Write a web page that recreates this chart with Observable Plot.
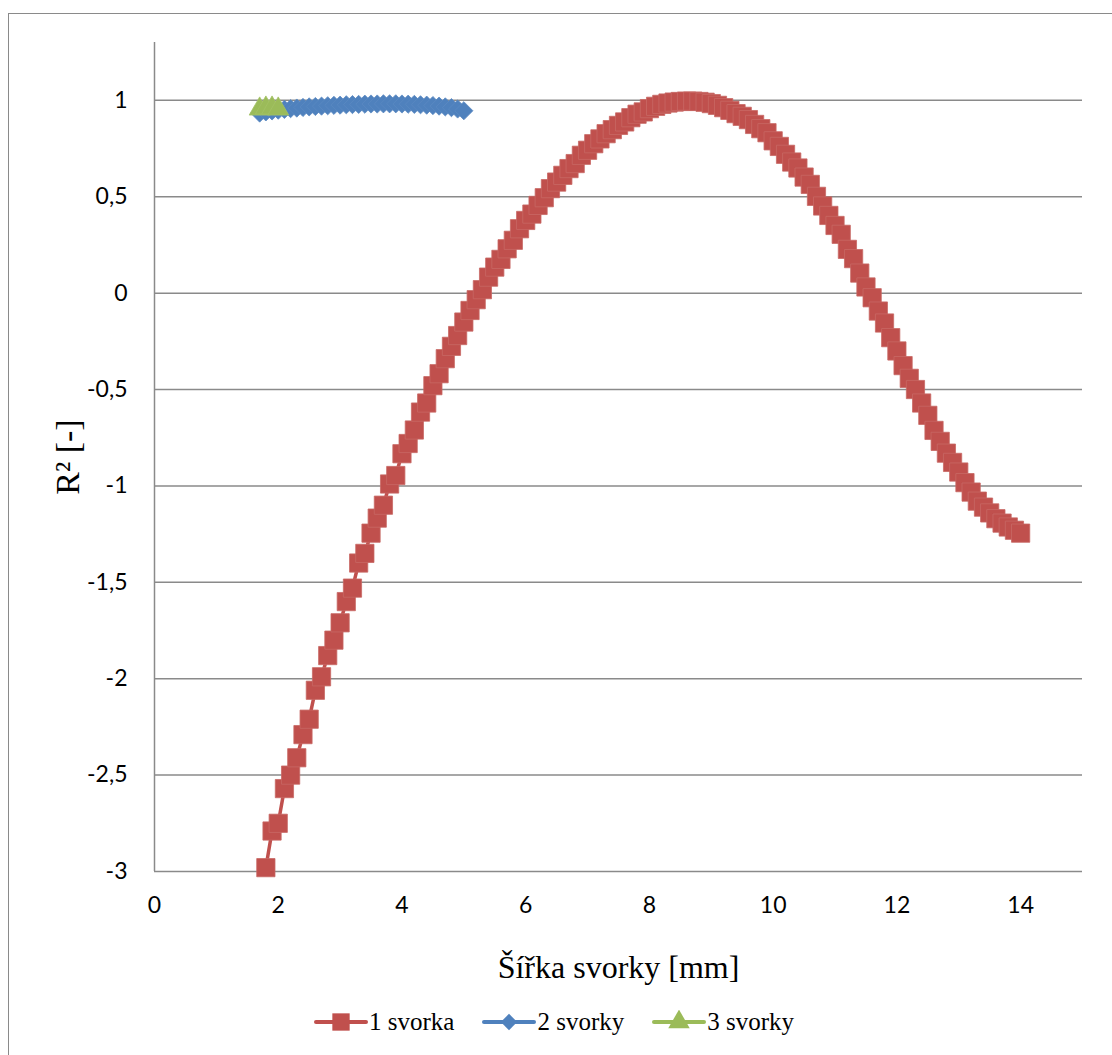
<!DOCTYPE html>
<html>
<head>
<meta charset="utf-8">
<script src="https://cdn.jsdelivr.net/npm/d3@7"></script>
<script src="https://cdn.jsdelivr.net/npm/@observablehq/plot@0.6"></script>
<style>
  html, body { margin: 0; padding: 0; background: #fff; }
  #wrap { position: relative; width: 1112px; height: 1055px; overflow: hidden; background: #fff; }
  #frame { position: absolute; left: 8px; top: 13px; width: 1200px; height: 1200px; border: 1px solid #8a8a8a; pointer-events: none; }
  #chart { position: absolute; left: 0; top: 0; }
  #legend { position: absolute; left: 314px; top: 1008px; display: flex; align-items: center; font-family: "Liberation Serif", "Times New Roman", serif; font-size: 25px; color: #000; }
  .item { display: flex; align-items: center; margin-right: 28px; }
  .item svg { margin-right: 1px; }
</style>
</head>
<body>
<div id="wrap">
  <div id="chart"></div>
  <div id="frame"></div>
  <div id="legend"></div>
</div>
<script>
// ---- Data ----
const seriesNames = ["1 svorka", "2 svorky", "3 svorky"];
const seriesColors = ["#C0504D", "#4F81BD", "#9BBB59"];

const xTicks = [0, 2, 4, 6, 8, 10, 12, 14];
const yTicks = [-3, -2.5, -2, -1.5, -1, -0.5, 0, 0.5, 1];

const redX = [1.8, 1.9, 2.0, 2.1, 2.2, 2.3, 2.4, 2.5, 2.6, 2.7, 2.8, 2.9,
  3.0, 3.1, 3.2, 3.3, 3.4, 3.5, 3.6, 3.7, 3.8, 3.9,
  4.0, 4.1, 4.2, 4.3, 4.4, 4.5, 4.6, 4.7, 4.8, 4.9,
  5.0, 5.1, 5.2, 5.3, 5.4, 5.5, 5.6, 5.7, 5.8, 5.9,
  6.0, 6.1, 6.2, 6.3, 6.4, 6.5, 6.6, 6.7, 6.8, 6.9,
  7.0, 7.1, 7.2, 7.3, 7.4, 7.5, 7.6, 7.7, 7.8, 7.9,
  8.0, 8.1, 8.2, 8.3, 8.4, 8.5, 8.6, 8.7, 8.8, 8.9,
  9.0, 9.1, 9.2, 9.3, 9.4, 9.5, 9.6, 9.7, 9.8, 9.9,
  10.0, 10.1, 10.2, 10.3, 10.4, 10.5, 10.6, 10.7, 10.8, 10.9,
  11.0, 11.1, 11.2, 11.3, 11.4, 11.5, 11.6, 11.7, 11.8, 11.9,
  12.0, 12.1, 12.2, 12.3, 12.4, 12.5, 12.6, 12.7, 12.8, 12.9,
  13.0, 13.1, 13.2, 13.3, 13.4, 13.5, 13.6, 13.7, 13.8, 13.9, 14.0];
const redY = [-2.98, -2.79, -2.75, -2.57, -2.50, -2.41, -2.29, -2.21, -2.06, -1.99, -1.88, -1.80,
  -1.71, -1.60, -1.53, -1.40, -1.35, -1.245, -1.167, -1.10, -0.99, -0.946,
  -0.833, -0.78, -0.71, -0.617, -0.57, -0.48, -0.418, -0.34, -0.276, -0.22,
  -0.15, -0.09, -0.034, 0.018, 0.083, 0.135, 0.175, 0.23, 0.274, 0.334,
  0.377, 0.41, 0.455, 0.495, 0.542, 0.576, 0.611, 0.646, 0.672, 0.715,
  0.741, 0.775, 0.80, 0.827, 0.848, 0.87, 0.888, 0.91, 0.928, 0.94,
  0.957, 0.969, 0.979, 0.986, 0.991, 0.994, 0.996, 0.996, 0.994, 0.99,
  0.983, 0.974, 0.962, 0.948, 0.931, 0.917, 0.90, 0.875, 0.853, 0.832,
  0.79, 0.761, 0.72, 0.68, 0.649, 0.602, 0.564, 0.502, 0.452, 0.403,
  0.351, 0.305, 0.227, 0.179, 0.104, 0.032, -0.024, -0.093, -0.155, -0.231,
  -0.30, -0.376, -0.442, -0.50, -0.57, -0.634, -0.712, -0.769, -0.83, -0.878,
  -0.928, -0.983, -1.032, -1.079, -1.11, -1.14, -1.17, -1.193, -1.213, -1.23, -1.245];

const blueX = [1.7, 1.8, 1.9, 2.0, 2.1, 2.2, 2.3, 2.4, 2.5, 2.6, 2.7, 2.8, 2.9,
  3.0, 3.1, 3.2, 3.3, 3.4, 3.5, 3.6, 3.7, 3.8, 3.9,
  4.0, 4.1, 4.2, 4.3, 4.4, 4.5, 4.6, 4.7, 4.8, 4.9, 5.0];
const blueY = [0.934, 0.94, 0.945, 0.949, 0.953, 0.957, 0.96, 0.963, 0.966, 0.968, 0.97, 0.972, 0.974,
  0.975, 0.977, 0.978, 0.979, 0.98, 0.981, 0.981, 0.982, 0.982, 0.982,
  0.981, 0.98, 0.979, 0.977, 0.975, 0.973, 0.97, 0.966, 0.962, 0.955, 0.946];

const greenX = [1.7, 1.8, 1.9, 2.0];
const greenY = [0.955, 0.96, 0.96, 0.955];

// ---- Build tables ----
const red = redX.map((x, i) => ({x, y: redY[i]}));
const blue = blueX.map((x, i) => ({x, y: blueY[i]}));
const green = greenX.map((x, i) => ({x, y: greenY[i]}));

const fmt = d => String(d).replace(".", ",");
const grid = "#8a8a8a";

const chart = Plot.plot({
  width: 1112,
  height: 1000,
  marginLeft: 154,
  marginRight: 30,
  marginTop: 42,
  marginBottom: 129,
  style: {background: "transparent", fontFamily: "Lato, 'Open Sans', sans-serif", fontSize: "23px", color: "#000"},
  x: {domain: [0, 15]},
  y: {domain: [-3, 1.3]},
  marks: [
    Plot.ruleY(yTicks, {stroke: grid, strokeWidth: 1.5}),
    Plot.ruleX([0], {stroke: grid, strokeWidth: 1.5}),
    Plot.axisY(yTicks, {anchor: "left", tickSize: 0, tickPadding: 27, tickFormat: fmt, label: null, fill: "#000"}),
    Plot.axisX(xTicks, {anchor: "bottom", tickSize: 0, tickPadding: 25, tickFormat: fmt, label: null, fill: "#000"}),
    Plot.text(["Šířka svorky [mm]"], {frameAnchor: "bottom", dy: 96, lineAnchor: "middle", fontFamily: "Liberation Serif, 'Times New Roman', serif", fontSize: 32, fill: "#000"}),
    Plot.text(["R² [-]"], {frameAnchor: "left", dx: -86, rotate: -90, lineAnchor: "middle", textAnchor: "middle", fontFamily: "Liberation Serif, 'Times New Roman', serif", fontSize: 34, fill: "#000"}),
    // series 1
    Plot.line(red, {x: "x", y: "y", stroke: seriesColors[0], strokeWidth: 3.5}),
    Plot.dot(red, {x: "x", y: "y", symbol: "square", r: 10.3, fill: seriesColors[0], stroke: "#c86865", strokeWidth: 0.8}),
    // series 2
    Plot.line(blue, {x: "x", y: "y", stroke: seriesColors[1], strokeWidth: 3.5}),
    Plot.dot(blue, {x: "x", y: "y", symbol: "diamond2", r: 8.2, fill: seriesColors[1], stroke: "#5a89c2", strokeWidth: 0.8}),
    // series 3
    Plot.line(green, {x: "x", y: "y", stroke: seriesColors[2], strokeWidth: 3.5}),
    Plot.dot(green, {x: "x", y: "y", symbol: "triangle", r: 7.8, fill: seriesColors[2], stroke: "#a3c164", strokeWidth: 0.8})
  ]
});
document.getElementById("chart").appendChild(chart);

// ---- Legend ----
const symbols = [d3.symbolSquare, d3.symbolDiamond2, d3.symbolTriangle];
const symSizes = [300, 170, 200];
const legend = d3.select("#legend");
seriesNames.forEach((name, i) => {
  const item = legend.append("div").attr("class", "item");
  const svg = item.append("svg").attr("width", 54).attr("height", 24);
  svg.append("line").attr("x1", 2).attr("x2", 52).attr("y1", 12).attr("y2", 12)
    .attr("stroke", seriesColors[i]).attr("stroke-width", 4).attr("stroke-linecap", "round");
  svg.append("path").attr("transform", "translate(27,12)")
    .attr("d", d3.symbol(symbols[i], symSizes[i])()).attr("fill", seriesColors[i]);
  item.append("span").text(name);
});
</script>
</body>
</html>
